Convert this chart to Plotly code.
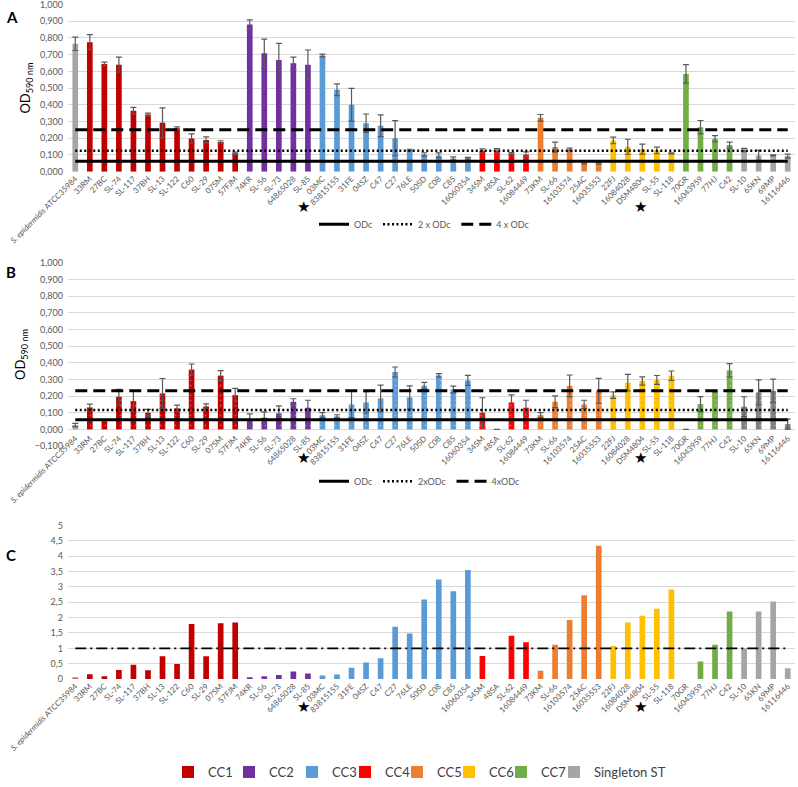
import plotly.graph_objects as go

categories = ["S. epidermidis ATCC35984", "33RM", "27BC", "SL-74", "SL-117", "37BH", "SL-13", "SL-122",
              "C60", "SL-29", "07SM", "57FJM",
              "74KR", "SL-56", "SL-73", "64865028", "SL-85",
              "03MC", "83815155", "31FE", "04SZ", "C47", "C27", "76LE", "50SD", "C08", "C85", "16060354",
              "34SM", "48SA", "SL-62", "16084449",
              "73KM", "SL-66", "16103574", "25AC", "16035553",
              "22FJ", "16084028", "DSM4804", "SL-55", "SL-118",
              "70GR", "16043959", "77HJ", "C42",
              "SL-10", "65KN", "69MP", "16116446"]
tick_labels = ["<i>S. epidermidis</i> ATCC35984"] + categories[1:]
groups = (["Reference"] + ["CC1"] * 11 + ["CC2"] * 5 + ["CC3"] * 11 + ["CC4"] * 4 +
          ["CC5"] * 5 + ["CC6"] * 5 + ["CC7"] * 4 + ["Singleton ST"] * 4)

od_a = [0.765, 0.775, 0.645, 0.640, 0.365, 0.342, 0.292, 0.260, 0.198, 0.190, 0.178, 0.110,
        0.880, 0.708, 0.668, 0.648, 0.640,
        0.695, 0.490, 0.400, 0.290, 0.275, 0.200, 0.129, 0.103, 0.097, 0.078, 0.080,
        0.127, 0.123, 0.109, 0.103,
        0.322, 0.147, 0.133, 0.054, 0.050,
        0.187, 0.149, 0.135, 0.127, 0.109,
        0.585, 0.266, 0.197, 0.159,
        0.129, 0.097, 0.097, 0.093]
err_a = [0.040, 0.045, 0.010, 0.045, 0.020, 0.008, 0.090, 0.008, 0.028, 0.018, 0.007, 0.007,
         0.028, 0.085, 0.100, 0.038, 0.088,
         0.008, 0.035, 0.098, 0.055, 0.065, 0.105, 0.005, 0.010, 0.015, 0.010, 0.005,
         0.010, 0.015, 0.005, 0.015,
         0.020, 0.030, 0.008, 0.008, 0.005,
         0.020, 0.045, 0.030, 0.020, 0.003,
         0.055, 0.040, 0.018, 0.018,
         0.010, 0.030, 0.003, 0.012]

od_b = [0.026, 0.132, 0.052, 0.196, 0.170, 0.100, 0.216, 0.126, 0.360, 0.138, 0.323, 0.206,
        0.058, 0.070, 0.096, 0.166, 0.130,
        0.086, 0.078, 0.150, 0.162, 0.186, 0.345, 0.192, 0.263, 0.325, 0.240, 0.295,
        0.100, 0.0, 0.162, 0.130,
        0.086, 0.166, 0.262, 0.150, 0.232,
        0.206, 0.281, 0.291, 0.297, 0.323,
        0.0, 0.152, 0.230, 0.355,
        0.136, 0.222, 0.232, 0.032]
err_b = [0.010, 0.020, 0.003, 0.045, 0.060, 0.020, 0.090, 0.020, 0.033, 0.015, 0.030, 0.040,
         0.035, 0.035, 0.045, 0.018, 0.045,
         0.015, 0.010, 0.080, 0.065, 0.080, 0.030, 0.070, 0.020, 0.010, 0.020, 0.030,
         0.090, None, 0.045, 0.045,
         0.015, 0.035, 0.065, 0.025, 0.075,
         0.020, 0.050, 0.025, 0.027, 0.028,
         None, 0.045, 0.005, 0.040,
         0.060, 0.075, 0.070, 0.030]

ratio_c = [0.05, 0.16, 0.09, 0.30, 0.47, 0.29, 0.74, 0.49, 1.79, 0.74, 1.82, 1.84,
           0.05, 0.09, 0.13, 0.25, 0.18,
           0.12, 0.15, 0.37, 0.54, 0.68, 1.70, 1.48, 2.59, 3.24, 2.86, 3.55,
           0.75, 0.0, 1.41, 1.20,
           0.27, 1.12, 1.92, 2.73, 4.34,
           1.08, 1.84, 2.06, 2.29, 2.91,
           0.0, 0.57, 1.12, 2.20,
           1.00, 2.20, 2.52, 0.35]

odc_a = 0.0625
odc_b = 0.058
ratio_ref = 1.0
starred = ["SL-85", "DSM4804"]

group_order = ["Reference", "CC1", "CC2", "CC3", "CC4", "CC5", "CC6", "CC7", "Singleton ST"]
colors = {"CC1": "#C00000", "CC2": "#7030A0", "CC3": "#5B9BD5", "CC4": "#FF0000",
          "CC5": "#ED7D31", "CC6": "#FFC000", "CC7": "#70AD47"}
colors_a = dict(colors, **{"Reference": "#A5A5A5", "Singleton ST": "#A5A5A5"})
colors_b = dict(colors, **{"Reference": "#A5A5A5", "Singleton ST": "#808080"})
colors_c = dict(colors, **{"Reference": "#E06666", "Singleton ST": "#A5A5A5"})
legend_widths = {"CC1": 16, "CC2": 18, "CC3": 8, "CC4": 7, "CC5": 7, "CC6": 7, "CC7": 8,
                 "Singleton ST": 90, "Reference": 10}

FONT = "Lato"
GRAY = "#595959"
W, H = 798, 787

fig = go.Figure()


def subset(vals, grp):
    return [v for v, g in zip(vals, groups) if g == grp]


def add_bars(vals, errs, cmap, xa, ya, legend_name=None, pattern=False):
    for grp in group_order:
        xs = subset(categories, grp)
        ys = subset(vals, grp)
        kw = {}
        if errs is not None:
            kw["error_y"] = dict(type="data", array=subset(errs, grp), color=GRAY,
                                 thickness=1.2, width=3)
        marker = dict(color=cmap[grp], line=dict(width=0))
        if pattern:
            marker["pattern"] = dict(shape=".", fgcolor="rgba(255,255,255,0.55)",
                                     size=5, solidity=0.12)
        show = legend_name is not None and grp != "Reference"
        if show:
            kw["legendwidth"] = legend_widths[grp]
        fig.add_trace(go.Bar(x=xs, y=ys, width=0.39, marker=marker, name=grp,
                             xaxis=xa, yaxis=ya, showlegend=show,
                             legend=legend_name if legend_name else "legend", **kw))


def add_lines(base, xa, ya, legend_name, names):
    specs = [(1, "solid", 3, names[0]), (2, "2px,2.5px", 2.5, names[1]), (4, "12px,6px", 3, names[2])]
    for mult, dash, wd, nm in specs:
        fig.add_trace(go.Scatter(x=categories, y=[base * mult] * len(categories), mode="lines",
                                 line=dict(color="black", width=wd, dash=dash), name=nm,
                                 xaxis=xa, yaxis=ya, legend=legend_name, hoverinfo="skip"))


add_bars(od_a, err_a, colors_a, "x", "y")
add_lines(odc_a, "x", "y", "legend", ["ODc", "2 x ODc", "4 x ODc"])
add_bars(od_b, err_b, colors_b, "x2", "y2", pattern=True)
add_lines(odc_b, "x2", "y2", "legend2", ["ODc", "2xODc", "4xODc"])
add_bars(ratio_c, None, colors_c, "x3", "y3", legend_name="legend3")
fig.add_trace(go.Scatter(x=categories, y=[ratio_ref] * len(categories), mode="lines",
                         line=dict(color="black", width=1.6, dash="11px,4px,2px,4px"),
                         xaxis="x3", yaxis="y3", showlegend=False, hoverinfo="skip"))


def pyd(top_px, bot_px):
    return [1 - bot_px / H, 1 - top_px / H]


xdom = [68 / W, 795 / W]
xcommon = dict(type="category", categoryorder="array", categoryarray=categories,
               tickvals=categories, ticktext=tick_labels, tickangle=-45,
               tickfont=dict(size=8, color=GRAY, family=FONT), showgrid=False,
               showline=False, zeroline=False, ticks="", domain=xdom,
               range=[-0.5, len(categories) - 0.5], automargin=False)
ycommon = dict(showgrid=True, gridcolor="#D9D9D9", gridwidth=1, zeroline=False,
               showline=False, ticks="", tickfont=dict(size=9, color=GRAY, family=FONT),
               automargin=False, ticklabelstandoff=4, ticklabeloverflow="allow")

fig.update_layout(
    width=W, height=H, margin=dict(l=0, r=0, t=0, b=0),
    paper_bgcolor="white", plot_bgcolor="white", barmode="overlay",
    separators=",.", font=dict(family=FONT, color=GRAY),
    xaxis=dict(xcommon, anchor="y"),
    xaxis2=dict(xcommon, anchor="free", position=1 - 433 / H),
    xaxis3=dict(xcommon, anchor="y3"),
    yaxis=dict(ycommon, anchor="x", domain=pyd(4.5, 172.3), range=[0, 1.0005], dtick=0.1,
               tick0=0, tickformat=".3f",
               title=dict(text="OD<sub>590 nm</sub>", font=dict(size=13, color="black", family=FONT),
                          standoff=6)),
    yaxis2=dict(ycommon, anchor="x2", domain=pyd(264, 447.7), range=[-0.1, 1.0005], dtick=0.1,
                tick0=0, tickformat=".3f",
                title=dict(text="OD<sub>590 nm</sub>", font=dict(size=13, color="black", family=FONT),
                           standoff=6)),
    yaxis3=dict(ycommon, anchor="x3", domain=pyd(527.3, 681.7), range=[0, 5.002], dtick=0.5),
    legend=dict(orientation="h", x=314 / W, xanchor="left", y=1 - 225 / H, yanchor="middle",
                font=dict(size=9, color=GRAY, family=FONT), bgcolor="rgba(0,0,0,0)",
                itemwidth=30, tracegroupgap=0),
    legend2=dict(orientation="h", x=314 / W, xanchor="left", y=1 - 483 / H, yanchor="middle",
                 font=dict(size=9, color=GRAY, family=FONT), bgcolor="rgba(0,0,0,0)",
                 itemwidth=30),
    legend3=dict(orientation="h", x=168 / W, xanchor="left", y=1 - 775 / H, yanchor="middle",
                 font=dict(size=13, color="#404040", family=FONT), bgcolor="rgba(0,0,0,0)",
                 traceorder="normal"),
)

for letter, ypx in [("A", 17), ("B", 273), ("C", 557)]:
    fig.add_annotation(text="<b>%s</b>" % letter, xref="paper", yref="paper", x=4 / W,
                       y=1 - ypx / H, xanchor="left", yanchor="middle", showarrow=False,
                       font=dict(size=15, color="black", family=FONT))

for xa, ypx in [("x", 208), ("x2", 460), ("x3", 710)]:
    for cat, shift in zip(starred, [-4, -2]):
        fig.add_annotation(text="★", xref=xa, yref="paper", x=cat, xshift=shift,
                           y=1 - ypx / H, showarrow=False, yanchor="middle",
                           font=dict(size=15, color="black", family="DejaVu Sans"))

fig.write_html("out.html")
